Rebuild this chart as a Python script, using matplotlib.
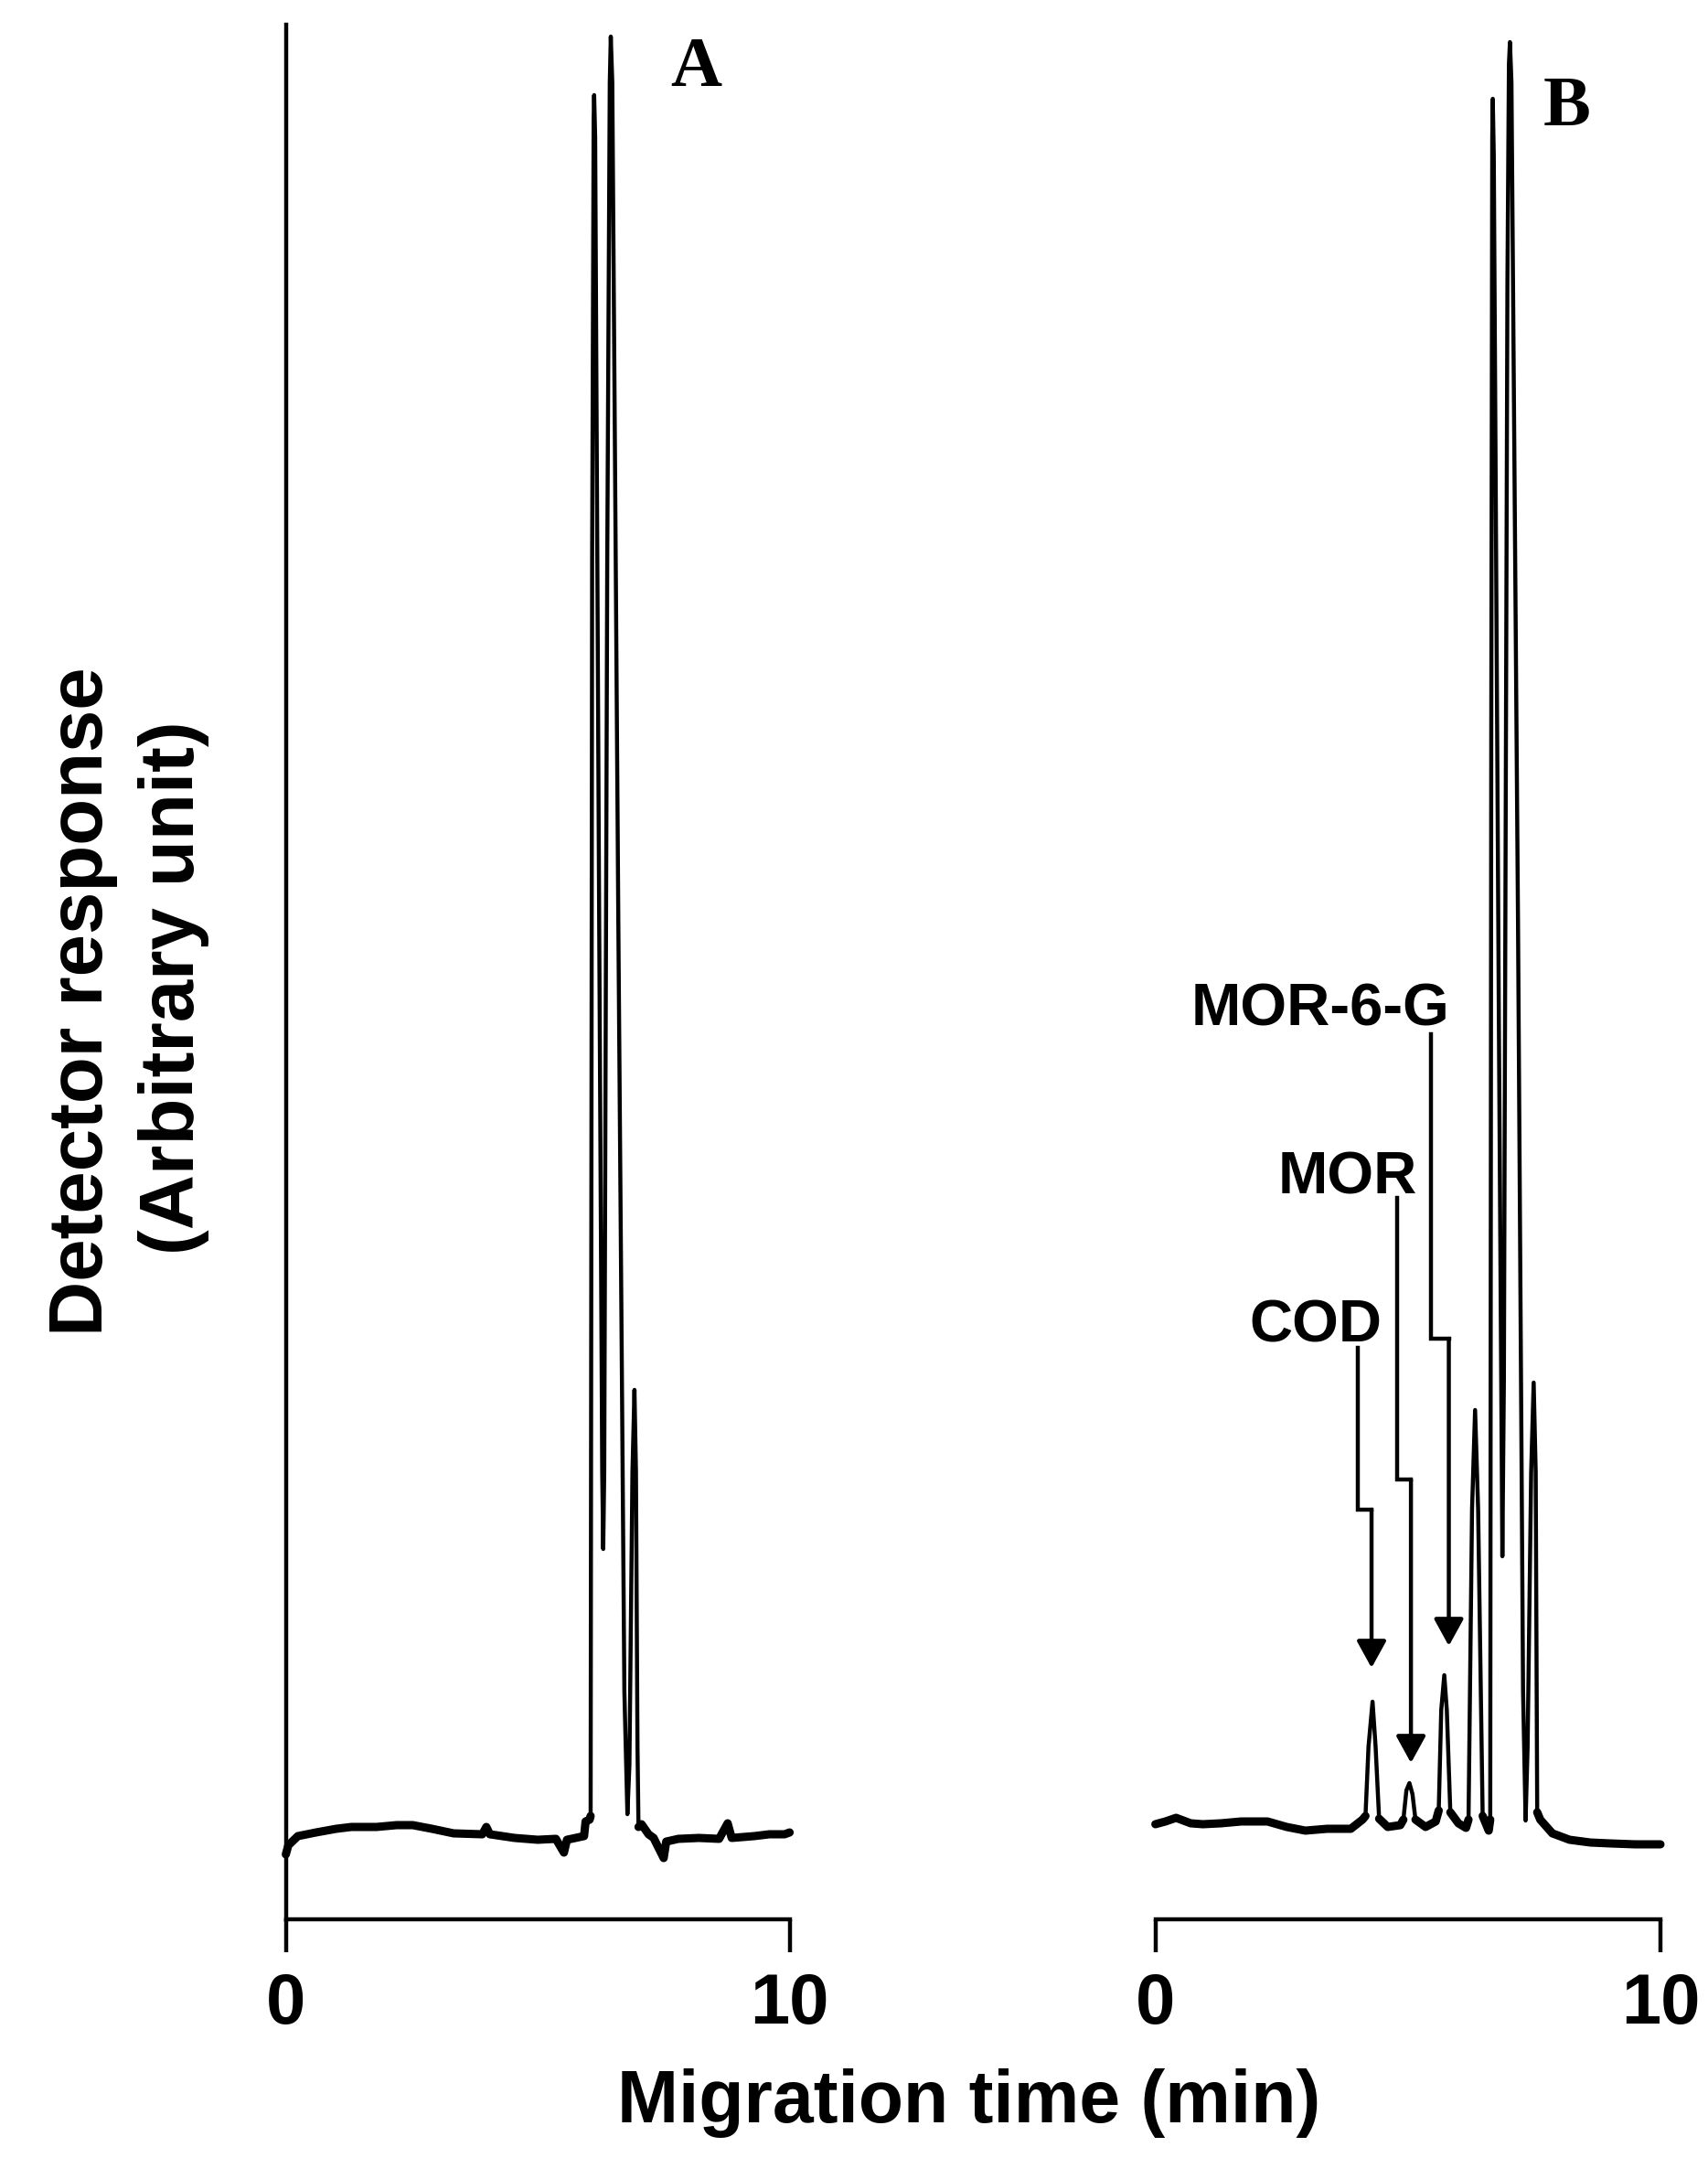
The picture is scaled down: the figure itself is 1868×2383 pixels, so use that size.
"""
Two capillary electropherograms (A: blank, B: spiked sample) drawn as
chromatogram traces with a bracket-style time axis.
"""

import numpy as np
import matplotlib
matplotlib.use("Agg")
import matplotlib.pyplot as plt

# ── Data (time in min, detector response in arbitrary units) ──────────────────
time_a = [0.00, 0.05, 0.24, 0.60, 1.00, 1.30, 1.80, 2.20, 2.52, 2.90, 3.33,
          3.90, 3.98, 4.05, 4.54, 5.00, 5.36, 5.52, 5.58, 5.92, 5.95, 6.03,
          6.05, 6.08, 6.11, 6.12, 6.14, 6.22, 6.28, 6.30, 6.32, 6.38, 6.43,
          6.45, 6.48, 6.60, 6.72, 6.78, 6.82, 6.88, 6.92, 6.95, 6.98, 7.00,
          7.06, 7.20, 7.30, 7.50, 7.55, 7.79, 8.20, 8.60, 8.77, 8.85, 9.30,
          9.60, 9.90, 10.00]
resp_a = [-0.9, -0.4, 0.1, 0.3, 0.5, 0.6, 0.6, 0.7, 0.7, 0.5, 0.25,
          0.2, 0.6, 0.2, 0.0, -0.1, -0.05, -0.8, -0.1, 0.1, 0.9, 1.0,
          1.2, 70.0, 94.0, 95.3, 93.0, 50.0, 20.0, 15.8, 20.0, 70.0, 96.0,
          98.5, 96.0, 50.0, 8.0, 1.3, 4.0, 20.0, 24.5, 20.0, 5.0, 0.6,
          0.75, 0.2, 0.0, -1.1, -0.2, -0.05, 0.0, -0.05, 0.8, 0.0, 0.1,
          0.2, 0.2, 0.3]

time_b = [0.00, 0.20, 0.41, 0.70, 0.94, 1.30, 1.70, 2.22, 2.60, 2.97, 3.40,
          3.87, 4.10, 4.16, 4.22, 4.30, 4.36, 4.43, 4.60, 4.85, 4.91, 4.97,
          5.03, 5.09, 5.15, 5.35, 5.55, 5.61, 5.66, 5.72, 5.77, 5.84, 6.00,
          6.15, 6.20, 6.27, 6.33, 6.39, 6.48, 6.60, 6.63, 6.65, 6.67, 6.68,
          6.70, 6.80, 6.87, 6.90, 6.97, 7.00, 7.02, 7.05, 7.18, 7.28, 7.33,
          7.37, 7.44, 7.49, 7.53, 7.56, 7.62, 7.86, 8.20, 8.61, 9.00,
          9.50, 10.00]
resp_b = [0.75, 0.9, 1.1, 0.8, 0.75, 0.8, 0.9, 0.9, 0.6, 0.4, 0.5,
          0.5, 1.0, 1.2, 5.0, 7.45, 5.0, 1.05, 0.6, 0.7, 1.0, 2.6,
          3.0, 2.4, 1.0, 0.6, 0.9, 1.5, 7.0, 8.9, 7.0, 1.4, 0.8,
          0.55, 1.0, 18.0, 23.4, 18.0, 1.2, 0.4, 1.0, 60.0, 93.0, 95.1,
          92.0, 45.0, 15.4, 25.0, 85.0, 97.0, 98.2, 96.0, 50.0, 8.0, 0.95,
          5.0, 20.0, 24.9, 20.0, 1.4, 1.0, 0.25, -0.1, -0.25, -0.3,
          -0.35, -0.35]

peak_labels = ["COD", "MOR", "MOR-6-G"]
axis_ticks = [0, 10]
tick_labels = ["0", "10"]
panel_labels = ["A", "B"]

# ── Layout (figure pixels) ────────────────────────────────────────────────────
W, H = 1868, 2383
Y_RANGE = (-4.45, 99.15)
LW = 3.2
NOISE_LW = 6.5      # the baseline in the original is a thick, noisy band
SANS = ["Liberation Sans", "DejaVu Sans"]
SERIF = ["Liberation Serif", "DejaVu Serif"]

# label text anchor, connector x / top / kink, arrow x / tip (data units of B)
arrow_layout = {
    "COD":     dict(text=(4.48, 27.1), x1=4.01, top=26.8, step=17.95, x2=4.28, tip=9.3),
    "MOR":     dict(text=(5.19, 35.2), x1=4.79, top=35.0, step=19.6, x2=5.06, tip=4.1),
    "MOR-6-G": dict(text=(5.82, 44.45), x1=5.46, top=43.95, step=27.3, x2=5.81, tip=10.5),
}


def px_box(x0, x1, y_top, y_bot):
    return [x0 / W, 1 - y_bot / H, (x1 - x0) / W, (y_bot - y_top) / H]


def style_axes(ax, show_left):
    ax.set_xlim(0, 10)
    ax.set_ylim(*Y_RANGE)
    for side in ["top", "right"]:
        ax.spines[side].set_visible(False)
    ax.spines["left"].set_visible(show_left)
    ax.spines["left"].set_linewidth(LW)
    ax.spines["bottom"].set_linewidth(LW)
    ax.set_yticks([])
    ax.set_xticks(axis_ticks)
    ax.set_xticklabels(tick_labels, family=SANS, fontweight="bold", fontsize=56)
    ax.tick_params(axis="x", direction="out", length=26, width=LW, pad=15)
    ax.patch.set_visible(False)


fig = plt.figure(figsize=(W / 100, H / 100), dpi=100)

ax_a = fig.add_axes(px_box(312.6, 863.6, 27, 2099))
ax_b = fig.add_axes(px_box(1263.6, 1816, 27, 2099))

style_axes(ax_a, True)
style_axes(ax_b, False)

# ── Traces ────────────────────────────────────────────────────────────────────
for ax, t, r in [(ax_a, time_a, resp_a), (ax_b, time_b, resp_b)]:
    ax.plot(t, r, color="black", lw=LW, solid_joinstyle="round", clip_on=False)
    r = np.asarray(r)
    base = np.ma.masked_where(np.abs(r) > 1.6, r)
    ax.plot(t, base, color="black", lw=NOISE_LW, solid_capstyle="round",
            solid_joinstyle="round", clip_on=False)

# ── Panel letters ─────────────────────────────────────────────────────────────
ax_a.text(8.15, 95.8, panel_labels[0], ha="center", va="baseline",
          family=SERIF, fontweight="bold", fontsize=56)
ax_b.text(8.14, 93.65, panel_labels[1], ha="center", va="baseline",
          family=SERIF, fontweight="bold", fontsize=56)

# ── Peak labels with kinked arrows (panel B) ─────────────────────────────────
for name in peak_labels:
    lay = arrow_layout[name]
    ax_b.text(*lay["text"], name, ha="right", va="baseline",
              family=SANS, fontweight="bold", fontsize=47)
    ax_b.plot([lay["x1"], lay["x1"], lay["x2"]],
              [lay["top"], lay["step"], lay["step"]],
              color="black", lw=LW, solid_joinstyle="miter")
    ax_b.annotate("", xy=(lay["x2"], lay["tip"]), xytext=(lay["x2"], lay["step"]),
                  arrowprops=dict(arrowstyle="-|>,head_length=0.4,head_width=0.22",
                                  color="black", lw=LW, mutation_scale=45,
                                  shrinkA=0, shrinkB=0))

# ── Axis titles ───────────────────────────────────────────────────────────────
fig.text(1059.5 / W, 1 - 2321 / H, "Migration time (min)", ha="center",
         va="baseline", family=SANS, fontweight="bold", fontsize=58)
fig.text(112 / W, 1 - 1095 / H, "Detector response", rotation=90,
         rotation_mode="anchor", ha="center", va="baseline",
         family=SANS, fontweight="bold", fontsize=60)
fig.text(212 / W, 1 - 1080 / H, "(Arbitrary unit)", rotation=90,
         rotation_mode="anchor", ha="center", va="baseline",
         family=SANS, fontweight="bold", fontsize=60)

fig.savefig("out.png", dpi=100)
plt.close(fig)
